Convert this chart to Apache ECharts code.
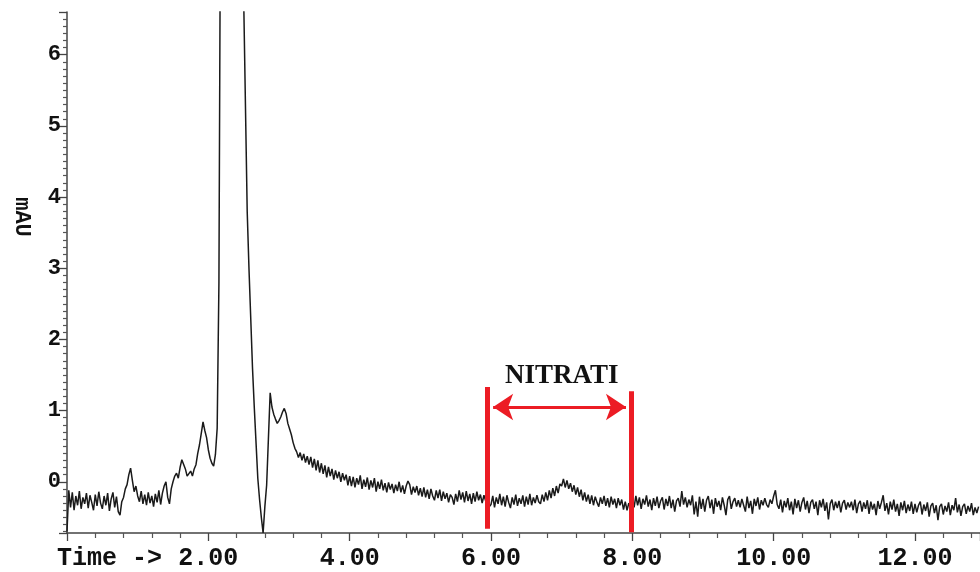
<!DOCTYPE html>
<html>
<head>
<meta charset="utf-8">
<script src="https://cdn.jsdelivr.net/npm/echarts@6/dist/echarts.min.js"></script>
<style>
html,body{margin:0;padding:0;background:#ffffff;}
#chart{width:980px;height:572px;}
</style>
</head>
<body>
<div id="chart"></div>
<script>
// ---- Data (time in minutes, absorbance in mAU) ----
const timeStart = 0;      // min
const timeStep = 0.025;   // min between samples

const trace0 = [-0.70,-0.12,-0.36,-0.15,-0.40,-0.20,-0.33,-0.13,-0.38,-0.22,
  -0.31,-0.16,-0.37,-0.19,-0.29,-0.40,-0.18,-0.34,-0.14,-0.30,
  -0.38,-0.20,-0.33,-0.16,-0.41,-0.24,-0.15,-0.36,-0.21,-0.42,
  -0.47,-0.28,-0.22,-0.10,-0.04,0.10,0.19,0.02,-0.14,-0.06];
const trace1 = [-0.20,-0.28,-0.13,-0.31,-0.18,-0.33,-0.15,-0.30,-0.20,-0.35,
  -0.17,-0.29,-0.12,-0.32,-0.16,-0.06,0.00,-0.22,-0.31,-0.10,
  0.00,0.08,0.12,0.05,0.20,0.31,0.30,0.18,0.08,0.06,
  0.15,0.08,0.18,0.24,0.40,0.52,0.68,0.84,0.72,0.62];
const trace2 = [0.45,0.33,0.26,0.22,0.38,0.75,2.8,9.0,14,18,
  20,21,21,20,19,17,15,12,10,8.5,
  6.8,5.3,3.8,3.0,2.3,1.6,1.05,0.55,0.05,-0.25,
  -0.50,-0.72,-0.35,-0.05,0.60,1.25,1.05,0.95,0.88,0.82];
const trace3 = [0.86,0.91,0.98,1.03,0.96,0.82,0.74,0.66,0.55,0.47,
  0.42,0.34,0.41,0.30,0.39,0.27,0.36,0.24,0.35,0.20,
  0.32,0.16,0.30,0.13,0.26,0.11,0.23,0.06,0.21,0.08,
  0.18,0.03,0.16,0.05,0.14,0.00,0.12,0.02,0.10,-0.05];
const trace4 = [0.08,-0.06,0.07,-0.08,0.05,-0.04,0.09,-0.10,0.03,-0.07,
  0.06,-0.11,0.02,-0.08,0.05,-0.14,0.00,-0.10,0.03,-0.12,
  -0.02,-0.15,-0.01,-0.11,-0.03,-0.16,-0.04,-0.13,0.00,-0.15,
  -0.05,-0.17,-0.06,0.01,-0.04,-0.18,-0.07,-0.15,-0.06,-0.19];
const trace5 = [-0.09,-0.21,-0.08,-0.22,-0.11,-0.24,-0.10,-0.20,-0.26,-0.12,
  -0.23,-0.11,-0.27,-0.14,-0.24,-0.16,-0.29,-0.18,-0.22,-0.32,
  -0.17,-0.28,-0.12,-0.25,-0.15,-0.29,-0.13,-0.27,-0.17,-0.31,
  -0.16,-0.28,-0.14,-0.26,-0.18,-0.30,-0.19,-0.27,-0.20,-0.35];
const trace6 = [-0.32,-0.20,-0.36,-0.22,-0.31,-0.17,-0.33,-0.21,-0.35,-0.19,
  -0.29,-0.37,-0.22,-0.32,-0.18,-0.34,-0.23,-0.31,-0.19,-0.35,
  -0.21,-0.32,-0.17,-0.33,-0.22,-0.30,-0.19,-0.28,-0.31,-0.18,
  -0.28,-0.15,-0.26,-0.12,-0.23,-0.09,-0.20,-0.06,-0.16,-0.03];
const trace7 = [-0.06,0.04,-0.08,0.02,-0.10,-0.02,-0.14,-0.05,-0.18,-0.08,
  -0.21,-0.11,-0.26,-0.15,-0.28,-0.18,-0.31,-0.19,-0.33,-0.21,
  -0.29,-0.35,-0.22,-0.31,-0.20,-0.34,-0.23,-0.36,-0.21,-0.32,
  -0.24,-0.37,-0.23,-0.33,-0.25,-0.39,-0.28,-0.40,-0.30,-0.37];
const trace8 = [-0.25,-0.36,-0.20,-0.33,-0.22,-0.38,-0.24,-0.32,-0.19,-0.35,
  -0.25,-0.40,-0.23,-0.34,-0.21,-0.37,-0.27,-0.22,-0.39,-0.24,
  -0.34,-0.20,-0.37,-0.25,-0.42,-0.27,-0.23,-0.35,-0.13,-0.32,
  -0.22,-0.36,-0.25,-0.33,-0.19,-0.46,-0.28,-0.49,-0.21,-0.38];
const trace9 = [-0.24,-0.42,-0.26,-0.20,-0.37,-0.25,-0.45,-0.23,-0.35,-0.27,
  -0.40,-0.22,-0.33,-0.47,-0.25,-0.20,-0.38,-0.28,-0.23,-0.35,
  -0.26,-0.36,-0.24,-0.33,-0.42,-0.21,-0.37,-0.27,-0.45,-0.24,
  -0.34,-0.22,-0.39,-0.26,-0.33,-0.23,-0.32,-0.36,-0.25,-0.31];
const trace10 = [-0.20,-0.12,-0.32,-0.38,-0.25,-0.43,-0.27,-0.36,-0.23,-0.40,
  -0.28,-0.46,-0.24,-0.37,-0.26,-0.42,-0.29,-0.22,-0.39,-0.27,
  -0.44,-0.29,-0.25,-0.38,-0.28,-0.47,-0.26,-0.36,-0.24,-0.41,
  -0.29,-0.53,-0.31,-0.25,-0.40,-0.28,-0.37,-0.27,-0.43,-0.30];
const trace11 = [-0.26,-0.39,-0.29,-0.36,-0.28,-0.40,-0.25,-0.44,-0.31,-0.27,
  -0.42,-0.29,-0.38,-0.26,-0.45,-0.28,-0.39,-0.31,-0.47,-0.27,
  -0.38,-0.29,-0.19,-0.41,-0.30,-0.46,-0.28,-0.39,-0.25,-0.42,
  -0.31,-0.48,-0.29,-0.40,-0.27,-0.44,-0.32,-0.41,-0.28,-0.45];
const trace12 = [-0.31,-0.43,-0.33,-0.28,-0.46,-0.32,-0.41,-0.29,-0.49,-0.34,
  -0.30,-0.44,-0.33,-0.54,-0.35,-0.31,-0.46,-0.34,-0.42,-0.29,
  -0.47,-0.33,-0.40,-0.23,-0.43,-0.32,-0.48,-0.35,-0.31,-0.45,
  -0.34,-0.42,-0.30,-0.47,-0.36,-0.44,-0.35];

// Axis ranges
const xRange = [0, 12.92];
const yRange = [-0.72, 6.6];

// NITRATI window (minutes, mAU)
const windowLeft = [5.94, 1.33, -0.66];   // [time, top, bottom]
const windowRight = [7.98, 1.27, -0.71];
const arrowSpan = [6.03, 7.91, 1.05];     // [from, to, level]
const windowLabel = ['NITRATI', 7.0, 1.48];

// ---- Build ----
const signal = [].concat(trace0, trace1, trace2, trace3, trace4, trace5, trace6,
  trace7, trace8, trace9, trace10, trace11, trace12);
const seriesData = signal.map((v, i) => [+(timeStart + i * timeStep).toFixed(3), v]);

const red = '#ec1c24';
const ink = '#1a1a1a';
const mono = '"Liberation Mono", "Courier New", monospace';

const chart = echarts.init(document.getElementById('chart'), null, {renderer: 'canvas'});
chart.setOption({
  animation: false,
  backgroundColor: '#ffffff',
  grid: {left: 67, right: 0, top: 12, bottom: 39, containLabel: false, outerBoundsMode: 'none'},
  xAxis: {
    type: 'value', min: xRange[0], max: xRange[1], interval: 2,
    axisLine: {show: true, onZero: false, lineStyle: {color: '#444', width: 1.5}},
    axisTick: {show: true, inside: false, length: 8, lineStyle: {color: '#444', width: 1.3}},
    minorTick: {show: true, splitNumber: 5, length: 5, lineStyle: {color: '#555', width: 1.2}},
    splitLine: {show: false},
    axisLabel: {
      show: true, showMaxLabel: false, margin: 13,
      color: '#111', fontFamily: mono, fontSize: 25, fontWeight: 'bold',
      formatter: v => (v === 0 ? '' : v.toFixed(2))
    }
  },
  yAxis: {
    type: 'value', min: yRange[0], max: yRange[1], splitNumber: 7,
    axisLine: {show: true, onZero: false, lineStyle: {color: '#444', width: 1.5}},
    axisTick: {show: true, length: 8, lineStyle: {color: '#444', width: 1.3}},
    minorTick: {show: true, splitNumber: 10, length: 4, lineStyle: {color: '#555', width: 1.2}},
    splitLine: {show: false},
    axisLabel: {
      show: true, showMinLabel: false, showMaxLabel: false, margin: 6,
      color: '#111', fontFamily: mono, fontSize: 22, fontWeight: 'bold',
      formatter: v => String(v)
    }
  },
  graphic: [
    {type: 'text', left: 57, top: 546, silent: true,
     style: {text: 'Time ->', fill: '#111', font: 'bold 25px "Liberation Mono", monospace'}},
    {type: 'text', x: 22, y: 217, rotation: -Math.PI / 2, silent: true,
     style: {text: 'mAU', fill: '#111', align: 'center', verticalAlign: 'middle',
             font: 'bold 22px "Liberation Mono", monospace'}}
  ],
  series: [{
    type: 'line',
    data: seriesData,
    showSymbol: false,
    symbol: 'none',
    clip: true,
    lineStyle: {color: ink, width: 1.5},
    z: 2,
    markLine: {
      silent: true,
      animation: false,
      label: {show: false},
      data: [
        [{coord: [windowLeft[0], windowLeft[1]], symbol: 'none', lineStyle: {color: red, width: 5, type: 'solid'}},
         {coord: [windowLeft[0], windowLeft[2]], symbol: 'none'}],
        [{coord: [windowRight[0], windowRight[1]], symbol: 'none', lineStyle: {color: red, width: 5, type: 'solid'}},
         {coord: [windowRight[0], windowRight[2]], symbol: 'none'}],
        [{coord: [arrowSpan[0], arrowSpan[2]], symbol: 'arrow', symbolSize: 20, lineStyle: {color: red, width: 3, type: 'solid'}},
         {coord: [arrowSpan[1], arrowSpan[2]], symbol: 'arrow', symbolSize: 20}]
      ]
    },
    markPoint: {
      silent: true,
      animation: false,
      symbol: 'circle',
      symbolSize: 0,
      data: [{coord: [windowLabel[1], windowLabel[2]], value: windowLabel[0]}],
      label: {
        show: true, position: 'inside', formatter: windowLabel[0],
        color: '#111', fontFamily: '"Liberation Serif", "Times New Roman", serif',
        fontWeight: 'bold', fontSize: 27
      }
    }
  }]
});
</script>
</body>
</html>
